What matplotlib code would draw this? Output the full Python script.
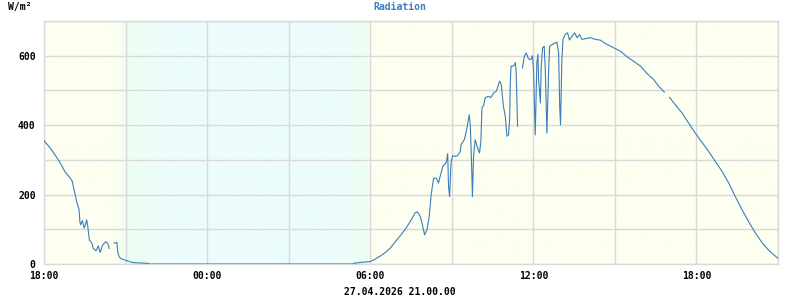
import numpy as np
import matplotlib
matplotlib.use("Agg")
import matplotlib.pyplot as plt
from matplotlib.colors import LinearSegmentedColormap

# hours after 26.04.2026 18:00, radiation in W/m2 (nan = gap in the record)
hours = [0.00, 0.22, 0.40, 0.59, 0.77, 0.96, 1.04, 1.12, 1.20, 1.29,
         1.32, 1.35, 1.41, 1.48, 1.57, 1.61, 1.67, 1.76, 1.81, 1.91,
         2.00, 2.06, 2.16, 2.27, 2.34, 2.40, 2.45, 2.58, 2.68, 2.71,
         2.76, 2.86, 3.04, 3.17, 3.29, 3.78, 3.90, 11.37, 11.40, 11.69,
         12.00, 12.18, 12.37, 12.55, 12.73, 12.92, 13.10, 13.29, 13.47, 13.66,
         13.74, 13.84, 13.92, 14.00, 14.09, 14.17, 14.24, 14.33, 14.43, 14.51,
         14.57, 14.67, 14.80, 14.85, 14.88, 14.92, 14.97, 15.03, 15.13, 15.21,
         15.31, 15.34, 15.46, 15.56, 15.64, 15.68, 15.72, 15.76, 15.80, 15.86,
         15.95, 16.02, 16.07, 16.11, 16.17, 16.23, 16.35, 16.44, 16.54, 16.64,
         16.76, 16.82, 16.90, 16.97, 17.03, 17.09, 17.13, 17.15, 17.18, 17.27,
         17.34, 17.37, 17.42, 17.50, 17.60, 17.67, 17.74, 17.82, 17.91, 17.97,
         18.01, 18.07, 18.13, 18.17, 18.19, 18.26, 18.29, 18.34, 18.40, 18.44,
         18.50, 18.56, 18.60, 18.69, 18.81, 18.87, 18.93, 18.97, 19.00, 19.05,
         19.09, 19.17, 19.26, 19.33, 19.42, 19.52, 19.61, 19.70, 19.79, 19.91,
         20.10, 20.28, 20.46, 20.65, 20.95, 21.20, 21.45, 21.69, 21.94, 22.18,
         22.43, 22.61, 22.82, 22.90, 23.01, 23.22, 23.47, 23.71, 23.96, 24.21,
         24.45, 24.70, 24.94, 25.19, 25.43, 25.68, 25.92, 26.17, 26.41, 26.65,
         26.90, 27.00]
radiation = [355, 335, 315, 292, 266, 248, 238, 209, 180, 156,
             122, 113, 125, 103, 127, 108, 69, 60, 45, 38,
             52, 33, 55, 64, 60, 45, np.nan, 60, 62, 36,
             21, 14, 10, 6, 4, 2, 0, 0, 2, 5,
             7, 14, 23, 33, 45, 64, 81, 100, 122, 148,
             150, 137, 113, 84, 100, 137, 199, 247, 247, 233,
             252, 281, 293, 318, 223, 194, 290, 312, 310, 312,
             324, 344, 358, 392, 430, 401, 310, 194, 310, 358,
             334, 320, 353, 450, 456, 479, 483, 479, 493, 498,
             527, 517, 454, 425, 368, 372, 421, 517, 570, 570,
             580, 551, 397, np.nan, 565, 599, 608, 591, 589, 600,
             555, 372, 580, 604, 536, 464, 570, 623, 627, 560,
             377, 551, 627, 632, 637, 639, 608, 454, 401, 589,
             647, 661, 666, 645, 656, 666, 652, 661, 647, 649,
             652, 647, 645, 635, 623, 613, 597, 584, 570, 549,
             531, 512, 495, np.nan, 480, 459, 435, 406, 377, 350,
             324, 295, 267, 233, 194, 156, 122, 89, 62, 40,
             23, 16]

tick_hours = [0, 6, 12, 18, 24]
tick_labels = ["18:00", "00:00", "06:00", "12:00", "18:00"]
y_ticks = [0, 200, 400, 600]
date_label = "27.04.2026 21.00.00"

t_end = 27
y_max = 700

font = "DejaVu Sans Mono"
blue = "#3b7dbd"
grid = "#d9d9d9"

fig = plt.figure(figsize=(8, 3), dpi=100)
ax = fig.add_axes([44 / 800, 36 / 300, 734 / 800, 243 / 300])

# day / night background: ivory by day, pale cyan at night, green-ish dusk/dawn
yellow, green, cyan = "#fdfff0", "#edfff0", "#ecfcfc"
stops = [(0.0, yellow), (2.45, yellow), (3.05, green), (4.3, cyan),
         (10.8, cyan), (11.9, green), (12.0, yellow), (27.0, yellow)]
cmap = LinearSegmentedColormap.from_list(
    "daynight", [(s / t_end, c) for s, c in stops])
ax.imshow(np.linspace(0, 1, 1200)[None, :], cmap=cmap, aspect="auto",
          extent=[0, t_end, 0, y_max], zorder=0, interpolation="bilinear")

ax.plot(hours, radiation, color=blue, lw=0.8, zorder=3)

ax.set_xlim(0, t_end)
ax.set_ylim(0, y_max)
ax.set_xticks(tick_hours)
ax.set_xticklabels(tick_labels)
ax.set_xticks(np.arange(0, t_end + 1, 3), minor=True)
ax.set_yticks(y_ticks)
ax.set_yticks(np.arange(0, y_max + 1, 100), minor=True)
ax.grid(True, which="both", color=grid, lw=1.0, zorder=1)
ax.set_axisbelow(False)
for line in ax.get_xgridlines() + ax.get_ygridlines():
    line.set_zorder(1)
ax.tick_params(which="both", length=0)
ax.tick_params(axis="x", pad=5)
ax.tick_params(axis="y", pad=6)
for lab in ax.get_xticklabels() + ax.get_yticklabels():
    lab.set_fontfamily(font)
    lab.set_fontweight("bold")
    lab.set_fontsize(7)
for s in ax.spines.values():
    s.set_color(grid)
    s.set_linewidth(1.0)

fig.text(0.5, 1 - 7 / 300, "Radiation", ha="center", va="center", color=blue,
         fontfamily=font, fontweight="bold", fontsize=7)
fig.text(8 / 800, 1 - 7 / 300, "W/m²", ha="left", va="center", color="black",
         fontfamily=font, fontweight="bold", fontsize=7)
fig.text(0.5, 1 - 292 / 300, date_label, ha="center", va="center",
         color="black", fontfamily=font, fontweight="bold", fontsize=7)

fig.savefig("out.png", dpi=100)
